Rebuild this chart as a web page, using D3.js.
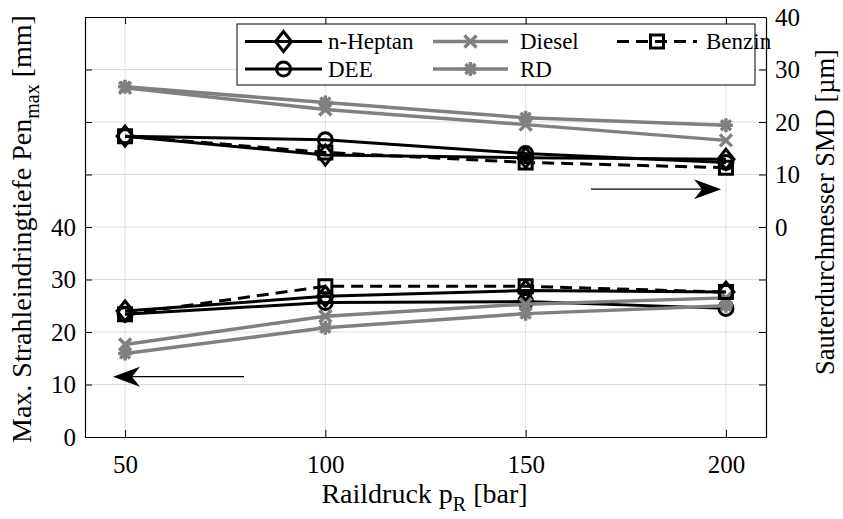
<!DOCTYPE html>
<html><head><meta charset="utf-8">
<script src="https://cdn.jsdelivr.net/npm/d3@7"></script>
<style>body{margin:0;background:#fff}svg{display:block}text{font-family:"Liberation Serif","Tinos","Times New Roman","Nimbus Roman","DejaVu Serif",serif !important;fill:#000}</style>
</head><body>
<script>
// ---- data ----
const pressures = [50, 100, 150, 200];
const xTicks = [50, 100, 150, 200];
const leftTickLabels = [0, 10, 20, 30, 40];
const rightTickLabels = [0, 10, 20, 30, 40];
const seriesNames = ["n-Heptan", "DEE", "Diesel", "RD", "Benzin"];
// Max. Strahleindringtiefe (left axis, mm)
const penHeptan = [24.0, 26.8, 27.9, 27.6];
const penDEE    = [23.4, 25.6, 25.8, 24.5];
const penDiesel = [17.6, 23.0, 25.3, 26.5];
const penRD     = [15.9, 20.8, 23.5, 25.0];
const penBenzin = [23.4, 28.7, 28.7, 27.6];
// Sauterdurchmesser SMD (right axis, µm)
const smdHeptan = [17.3, 13.7, 13.2, 12.9];
const smdDEE    = [17.3, 16.6, 14.0, 12.3];
const smdDiesel = [26.5, 22.4, 19.5, 16.5];
const smdRD     = [26.7, 23.7, 20.8, 19.4];
const smdBenzin = [17.3, 14.2, 12.3, 11.3];

const W = 843, H = 519;
const L = 85, R = 766, T = 17, B = 437;
const FONT = '"Liberation Serif", "Tinos", "Times New Roman", "Nimbus Roman", "DejaVu Serif", serif';
const svg = d3.select("body").append("svg").attr("width", W).attr("height", H).attr("font-family", FONT);

const x = d3.scaleLinear().domain([40, 210]).range([L, R]);
const yL = d3.scaleLinear().domain([0, 80]).range([B, T]);
const yR = d3.scaleLinear().domain([-40, 40]).range([B, T]);

// grid
const grid = svg.append("g").attr("stroke", "#dedede").attr("stroke-width", 1);
xTicks.forEach(v => grid.append("line").attr("x1", x(v)).attr("x2", x(v)).attr("y1", T).attr("y2", B));
d3.range(10, 80, 10).forEach(v => grid.append("line").attr("x1", L).attr("x2", R).attr("y1", yL(v)).attr("y2", yL(v)));

// axes
const axB = svg.append("g").attr("transform", `translate(0,${B})`)
  .call(d3.axisBottom(x).tickValues(xTicks).tickSizeInner(-7).tickSizeOuter(0).tickPadding(18));
const axT = svg.append("g").attr("transform", `translate(0,${T})`)
  .call(d3.axisTop(x).tickValues(xTicks).tickSizeInner(-7).tickSizeOuter(0).tickFormat(""));
const axL = svg.append("g").attr("transform", `translate(${L},0)`)
  .call(d3.axisLeft(yL).tickValues(d3.range(0, 90, 10)).tickSizeInner(-7).tickSizeOuter(0).tickPadding(9)
    .tickFormat(d => leftTickLabels.includes(d) ? d : ""));
const axR = svg.append("g").attr("transform", `translate(${R},0)`)
  .call(d3.axisRight(yR).tickValues(d3.range(-40, 50, 10)).tickSizeInner(-7).tickSizeOuter(0).tickPadding(9)
    .tickFormat(d => rightTickLabels.includes(d) ? d : ""));
[axB, axT, axL, axR].forEach(a => {
  a.attr("font-family", FONT);
  a.selectAll("path.domain").attr("stroke", "#000").attr("stroke-width", 1.2);
  a.selectAll(".tick line").attr("stroke", "#000").attr("stroke-width", 1);
  a.selectAll("text").style("font-size", "25px").attr("fill", "#000");
});

// series
const styles = {
  "n-Heptan": {color: "#000", w: 3, dash: null, marker: "diamond"},
  "DEE":      {color: "#000", w: 3, dash: null, marker: "circle"},
  "Diesel":   {color: "#808080", w: 3.5, dash: null, marker: "x"},
  "RD":       {color: "#808080", w: 3.5, dash: null, marker: "asterisk"},
  "Benzin":   {color: "#000", w: 3, dash: "12,7", marker: "square"}
};
const penData = {"n-Heptan": penHeptan, "DEE": penDEE, "Diesel": penDiesel, "RD": penRD, "Benzin": penBenzin};
const smdData = {"n-Heptan": smdHeptan, "DEE": smdDEE, "Diesel": smdDiesel, "RD": smdRD, "Benzin": smdBenzin};

function markerPath(type) {
  switch (type) {
    case "diamond": return "M0,-10L8,0L0,10L-8,0Z";
    case "square": return "M-6.5,-6.5H6.5V6.5H-6.5Z";
    case "x": return "M-6,-6L6,6M-6,6L6,-6";
    case "asterisk": return "M-7,0H7M0,-7V7M-5,-5L5,5M-5,5L5,-5";
    default: return null;
  }
}
function drawMarker(g, type, cx, cy, st) {
  if (type === "circle") {
    g.append("circle").attr("cx", cx).attr("cy", cy).attr("r", 7)
      .attr("fill", "none").attr("stroke", st.color).attr("stroke-width", st.w);
  } else {
    g.append("path").attr("d", markerPath(type)).attr("transform", `translate(${cx},${cy})`)
      .attr("fill", "none").attr("stroke", st.color).attr("stroke-width", st.w).attr("stroke-linejoin", "miter");
  }
}

const lineGen = yScale => d3.line().x((d, i) => x(pressures[i])).y(d => yScale(d));
const plot = svg.append("g");
seriesNames.forEach(name => {
  const st = styles[name];
  [[penData[name], yL], [smdData[name], yR]].forEach(([vals, ys]) => {
    plot.append("path").datum(vals).attr("d", lineGen(ys)).attr("fill", "none")
      .attr("stroke", st.color).attr("stroke-width", st.w).attr("stroke-dasharray", st.dash);
    vals.forEach((v, i) => drawMarker(plot, st.marker, x(pressures[i]), ys(v), st));
  });
});

// arrows
function arrow(x1, x2, y) {
  const dir = Math.sign(x2 - x1);
  const g = svg.append("g");
  g.append("line").attr("x1", x1).attr("x2", x2 - dir * 18).attr("y1", y).attr("y2", y)
    .attr("stroke", "#000").attr("stroke-width", 1.3);
  g.append("path").attr("d", `M${x2},${y}L${x2 - dir * 27},${y - 10}L${x2 - dir * 19},${y}L${x2 - dir * 27},${y + 10}Z`)
    .attr("fill", "#000");
}
arrow(591, 721, yR(7.2));
arrow(244, 113, yL(11.5));

// legend
const lg = svg.append("g");
lg.append("rect").attr("x", 237).attr("y", 24).attr("width", 518).attr("height", 61)
  .attr("fill", "#fff").attr("stroke", "#000").attr("stroke-width", 1);
const legendOrder = [["n-Heptan", 0, 0], ["DEE", 0, 1], ["Diesel", 1, 0], ["RD", 1, 1], ["Benzin", 2, 0]];
const colLineStart = [245, 433, 617], colLineEnd = [322, 508, 697], colText = [328, 520, 706];
const rowY = [41.5, 69];
legendOrder.forEach(([name, c, r]) => {
  const st = styles[name];
  lg.append("line").attr("x1", colLineStart[c]).attr("x2", colLineEnd[c]).attr("y1", rowY[r]).attr("y2", rowY[r])
    .attr("stroke", st.color).attr("stroke-width", st.w).attr("stroke-dasharray", st.dash);
  drawMarker(lg, st.marker, (colLineStart[c] + colLineEnd[c]) / 2, rowY[r], st);
  lg.append("text").attr("x", colText[c]).attr("y", rowY[r]).attr("dy", "0.33em")
    .style("font-size", "23px").text(name);
});

// axis labels
const xl = svg.append("text").attr("x", (L + R) / 2 - 1).attr("y", 503).attr("text-anchor", "middle").style("font-size", "28px");
xl.append("tspan").text("Raildruck p");
xl.append("tspan").attr("dy", 8).style("font-size", "20px").text("R");
xl.append("tspan").attr("dy", -8).text(" [bar]");

const yl = svg.append("text").attr("transform", "translate(31,229) rotate(-90)").attr("text-anchor", "middle").style("font-size", "28px");
yl.append("tspan").text("Max. Strahleindringtiefe Pen");
yl.append("tspan").attr("dy", 8).style("font-size", "20px").text("max");
yl.append("tspan").attr("dy", -8).text(" [mm]");

svg.append("text").attr("transform", "translate(834,212) rotate(-90)").attr("text-anchor", "middle")
  .style("font-size", "26.5px").text("Sauterdurchmesser SMD [µm]");
</script>
</body></html>
